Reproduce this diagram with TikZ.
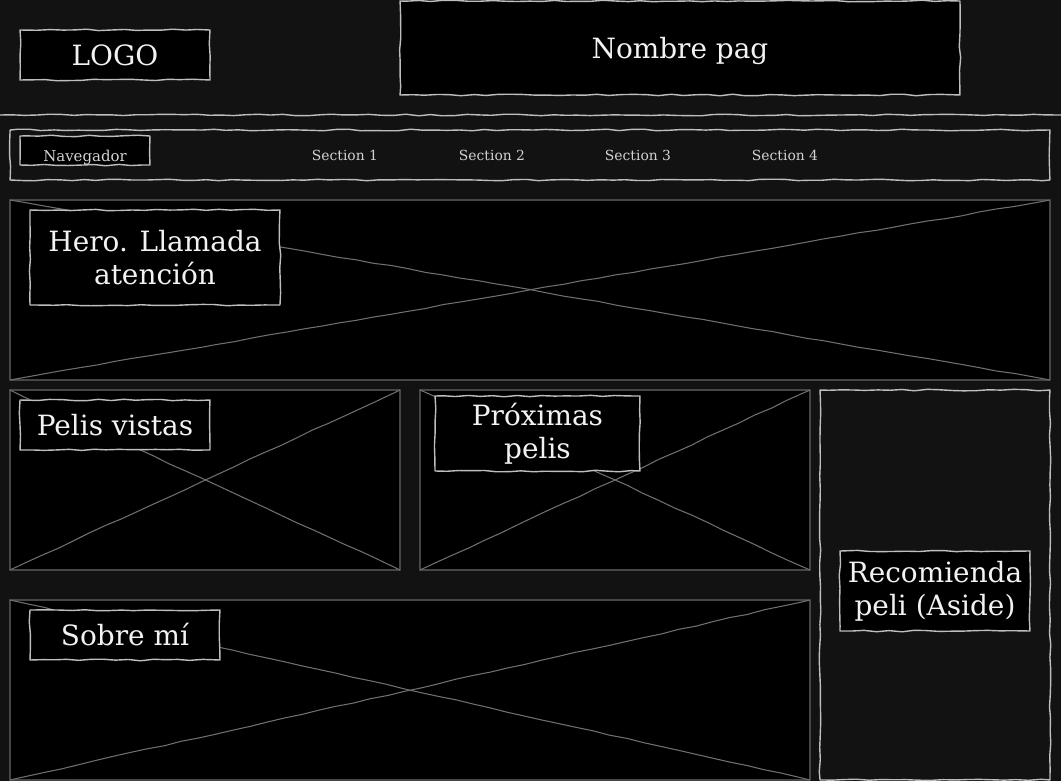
\documentclass[tikz,border=0pt]{standalone}
\usepackage{fontspec}
\setmainfont{DejaVu Serif}
\usetikzlibrary{decorations.pathmorphing}
\definecolor{pagebg}{HTML}{121212}
\definecolor{sketchline}{HTML}{BEBEBE}
\definecolor{phborder}{HTML}{464646}
\definecolor{phcross}{HTML}{707070}
\definecolor{labeltext}{HTML}{F2F2F2}
\definecolor{navtext}{HTML}{D2D2D2}

\begin{document}
\begin{tikzpicture}[x=0.02cm,y=-0.02cm,line cap=round,line join=round,
    sketchy/.style={decorate,decoration={random steps,segment length=7pt,amplitude=0.45pt}},
    label/.style={draw=sketchline,fill=black,line width=0.8pt,sketchy,text=labeltext,
      font=\fontsize{15.9pt}{18.6pt}\selectfont,align=center,inner sep=0pt,outer sep=0pt},
    holder/.style={draw=phborder,fill=black,line width=0.8pt,inner sep=0pt,outer sep=0pt},
    panel/.style={draw=sketchline,fill=pagebg,line width=0.8pt,sketchy,inner sep=0pt,outer sep=0pt},
    cross/.style={draw=phcross,line width=0.6pt,decorate,decoration={random steps,segment length=10pt,amplitude=0.3pt}},
    section/.style={text=navtext,font=\fontsize{7.9pt}{9pt}\selectfont}]
  \pgfmathsetseed{7}
  \useasboundingbox (0,0) rectangle (1061,781);
  \clip (0,0) rectangle (1061,781);
  \fill[pagebg] (0,0) rectangle (1061,781);
  % header
  \draw[sketchline,line width=0.8pt,sketchy] (0,115) -- (1061,115);
  \node[label,minimum width=3.8cm,minimum height=1cm] (logo) at (115,55) {LOGO};
  \node[label,minimum width=11.2cm,minimum height=1.88cm,text height=11.6pt,text depth=0pt] (nombre) at (680,48) {Nombre pag};
  % nav bar
  \node[panel,minimum width=20.8cm,minimum height=1cm] (nav) at (530,155) {};
  \node[label,minimum width=2.6cm,minimum height=0.58cm,text=navtext,
    font=\fontsize{8.5pt}{10pt}\selectfont,text height=12pt,text depth=0pt] (navegador) at (85,150.5) {Navegador};
  \foreach \x/\n in {345/1,492/2,638/3,785/4}
    \node[section] (sec\n) at (\x,155) {Section \n};
  % content blocks
  \node[holder,minimum width=20.8cm,minimum height=3.6cm] (hero) at (530,290) {};
  \node[holder,minimum width=7.8cm,minimum height=3.6cm] (vistas) at (205,480) {};
  \node[holder,minimum width=7.8cm,minimum height=3.6cm] (proximas) at (615,480) {};
  \node[holder,minimum width=16cm,minimum height=3.6cm] (sobre) at (410,690) {};
  \node[panel,minimum width=4.6cm,minimum height=7.8cm] (aside) at (935,585) {};
  \foreach \b in {hero,vistas,proximas,sobre} {
    \draw[cross] (\b.north west) -- (\b.south east);
    \draw[cross] (\b.south west) -- (\b.north east);
  }
  % labels
  \node[label,minimum width=5cm,minimum height=1.9cm] (herolbl) at (155,257.5) {Hero. Llamada\\atención};
  \node[label,minimum width=3.8cm,minimum height=1cm] (vistaslbl) at (115,425) {Pelis vistas};
  \node[label,minimum width=4.1cm,minimum height=1.5cm] (proximaslbl) at (537.5,433.5) {Próximas\\pelis};
  \node[label,minimum width=3.8cm,minimum height=1.6cm] (asidelbl) at (935,591) {Recomienda\\peli (Aside)};
  \node[label,minimum width=3.8cm,minimum height=1cm] (sobrelbl) at (125,635) {Sobre mí};
\end{tikzpicture}
\end{document}
